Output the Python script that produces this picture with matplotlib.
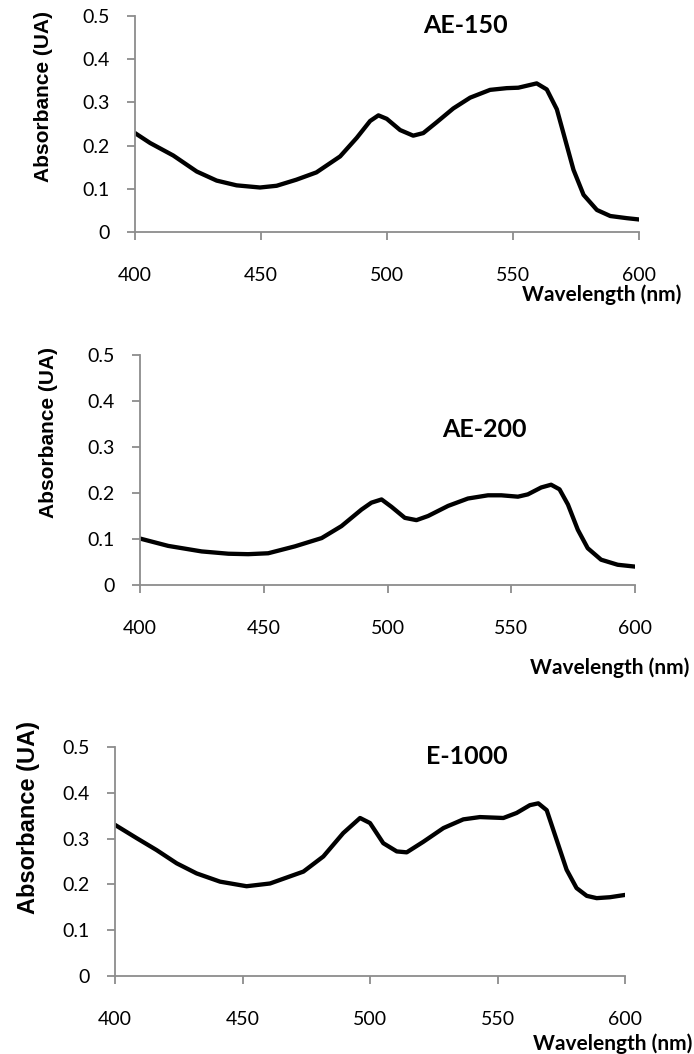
import matplotlib
matplotlib.use("Agg")
import matplotlib.pyplot as plt

# spectra
wl_150 = [400, 406, 415.2, 424.5, 432.4, 440.3, 449.6, 456.2, 464, 472, 481.4, 488, 493.3,
          496.6, 499.9, 505.2, 510.4, 514.4, 519.7, 526.3, 533, 540.9, 547.5, 552.1, 559.4,
          563.4, 567.4, 570, 574, 578, 583.3, 588.6, 595.2, 600]
ab_150 = [0.229, 0.206, 0.177, 0.140, 0.119, 0.108, 0.103, 0.107, 0.121, 0.138, 0.175, 0.218,
          0.257, 0.270, 0.262, 0.236, 0.223, 0.229, 0.254, 0.286, 0.311, 0.329, 0.333, 0.334,
          0.344, 0.330, 0.284, 0.229, 0.144, 0.086, 0.051, 0.037, 0.032, 0.029]

wl_200 = [400, 411.4, 424.9, 435.7, 443.7, 451.8, 462.6, 473.4, 481.4, 489.5, 493.5, 497.6,
          501.6, 507, 511.7, 516.4, 524.5, 532.5, 540.6, 546, 552.7, 556.7, 562.1, 566.1,
          569.5, 572.9, 576.9, 580.9, 586.3, 593, 600]
ab_200 = [0.101, 0.085, 0.073, 0.068, 0.067, 0.069, 0.084, 0.102, 0.128, 0.164, 0.179, 0.186,
          0.170, 0.146, 0.141, 0.150, 0.172, 0.188, 0.195, 0.195, 0.192, 0.197, 0.212, 0.218,
          0.208, 0.175, 0.120, 0.080, 0.055, 0.044, 0.040]

wl_1000 = [400, 408.5, 416.3, 424.2, 432, 441.2, 451.6, 460.8, 473.9, 481.7, 489.5, 496.1,
           500, 505.2, 510.5, 514.4, 520.9, 528.8, 536.6, 543.1, 552.3, 557.5, 562.7, 566,
           569.3, 573.2, 577.1, 581, 585, 588.9, 594.1, 600]
ab_1000 = [0.330, 0.301, 0.275, 0.246, 0.224, 0.206, 0.196, 0.202, 0.228, 0.261, 0.312, 0.345,
           0.334, 0.290, 0.272, 0.270, 0.293, 0.323, 0.342, 0.347, 0.345, 0.356, 0.373, 0.377,
           0.362, 0.297, 0.232, 0.192, 0.175, 0.170, 0.172, 0.177]

xticks = [400, 450, 500, 550, 600]
yticks = [0, 0.1, 0.2, 0.3, 0.4, 0.5]
ytick_labels = ["0", "0.1", "0.2", "0.3", "0.4", "0.5"]

W, H = 694, 1054
fig = plt.figure(figsize=(W / 100, H / 100), dpi=100)

# axes box in px (left, top, right, bottom), title in data coords,
# y label centre px + size, x label right edge / centre px
panels = [
    dict(box=(135, 16, 639, 232), x=wl_150, y=ab_150, title="AE-150", tpos=(531, 0.477),
         ylab=(44, 96, 15), xlab=(681, 295)),
    dict(box=(140, 355, 635, 585), x=wl_200, y=ab_200, title="AE-200", tpos=(539, 0.337),
         ylab=(49, 432, 15), xlab=(689, 668)),
    dict(box=(115, 747, 625, 976), x=wl_1000, y=ab_1000, title="E-1000", tpos=(538, 0.48),
         ylab=(29, 818, 17), xlab=(692, 1044)),
]

axis_grey = "#8c8c8c"
for p in panels:
    l, t, r, b = p["box"]
    ax = fig.add_axes([l / W, 1 - b / H, (r - l) / W, (b - t) / H])
    ax.plot(p["x"], p["y"], color="black", lw=3.1, solid_capstyle="round",
            solid_joinstyle="round")
    ax.set_xlim(400, 600)
    ax.set_ylim(0, 0.5)
    ax.set_xticks(xticks)
    ax.set_yticks(yticks)
    ax.set_yticklabels(ytick_labels)
    for s in ["top", "right"]:
        ax.spines[s].set_visible(False)
    for s in ["left", "bottom"]:
        ax.spines[s].set_color(axis_grey)
        ax.spines[s].set_linewidth(1.3)
    ax.tick_params(axis="x", direction="out", length=6, width=1.3, color=axis_grey, pad=19,
                   labelsize=14)
    ax.tick_params(axis="y", direction="out", length=6, width=1.3, color=axis_grey, pad=12,
                   labelsize=14)
    for lab in ax.get_xticklabels() + ax.get_yticklabels():
        lab.set_family("Lato")
    ax.text(p["tpos"][0], p["tpos"][1], p["title"], ha="center", va="center",
            fontsize=18, fontweight="bold", family="Lato")
    yx, yy, ys = p["ylab"]
    fig.text(yx / W, 1 - yy / H, "Absorbance (UA)", rotation=90, ha="center", va="center",
             fontsize=ys, fontweight="bold", family="Liberation Sans")
    xx, xy = p["xlab"]
    fig.text(xx / W, 1 - xy / H, "Wavelength (nm)", ha="right", va="center",
             fontsize=15, fontweight="bold", family="Lato")

fig.savefig("out.png", dpi=100)
